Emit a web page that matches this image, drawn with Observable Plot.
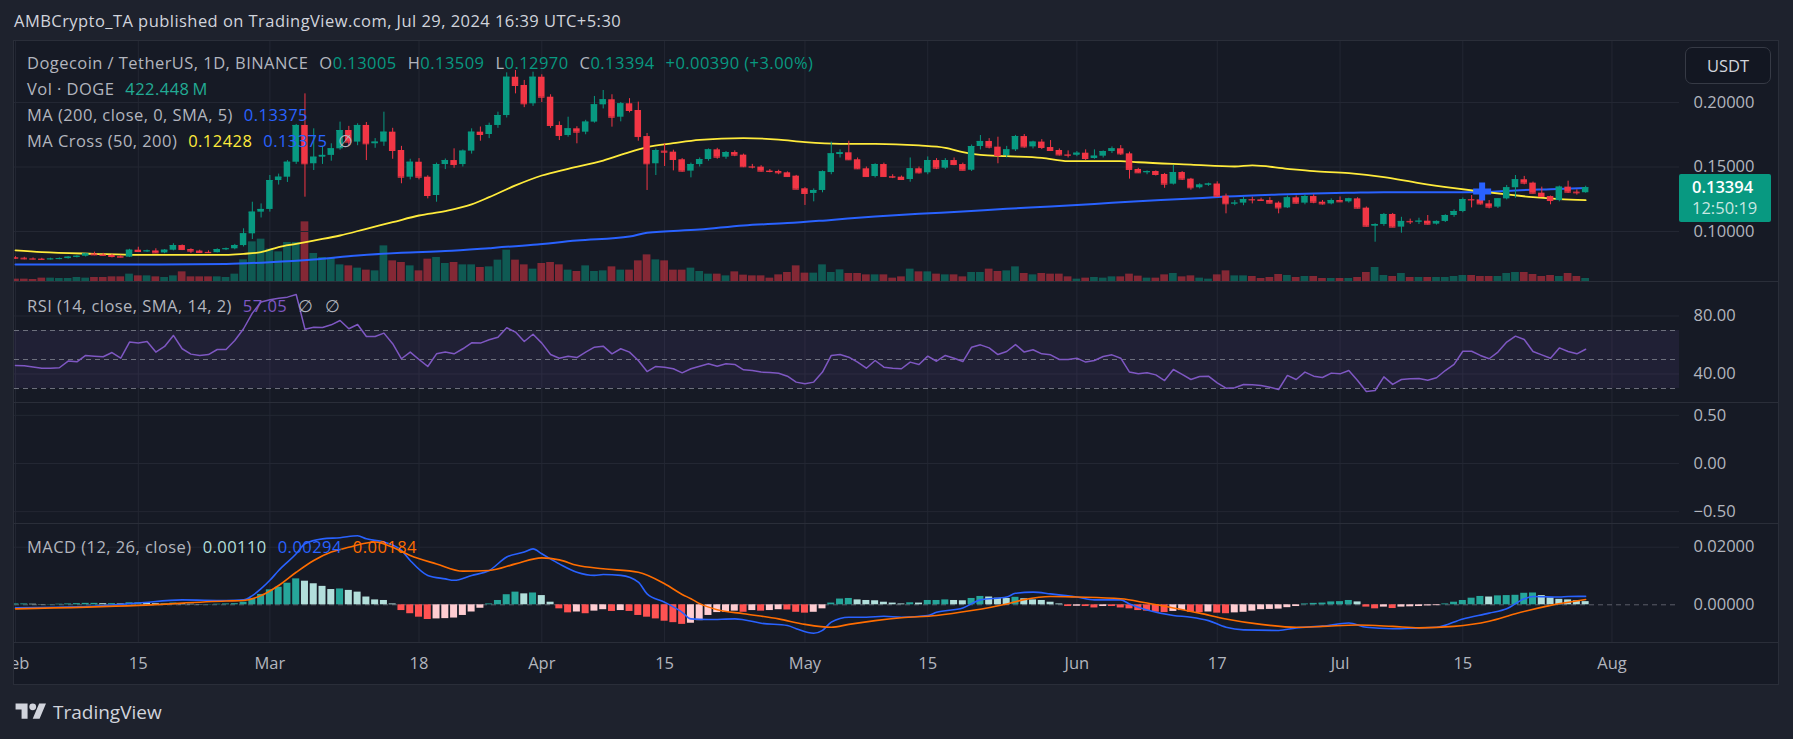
<!DOCTYPE html>
<html><head><meta charset="utf-8">
<script src="https://cdn.jsdelivr.net/npm/d3@7"></script>
<script src="https://cdn.jsdelivr.net/npm/@observablehq/plot@0.6"></script>
<style>
html,body{margin:0;padding:0;background:#1e222d;}
#root{position:relative;width:1793px;height:739px;overflow:hidden;font-family:"Open Sans",Roboto,sans-serif;color:#b2b5be;}
.abs{position:absolute;white-space:nowrap;}
#panel{position:absolute;left:13px;top:40px;width:1764px;height:643px;border:1px solid #2a2e39;background:#161a25;overflow:hidden;}
.sep{position:absolute;left:0;width:1764px;height:1px;background:#2a2e39;}
.leg{position:absolute;left:13px;font-size:16.5px;letter-spacing:0.45px;line-height:20px;white-space:nowrap;color:#b2b5be;}
.leg span{margin-right:11px;}
.leg span.k{margin-right:0;}
</style></head><body><div id="root"></div>
<script>
// ---------------- DATA ----------------
const startDay = "2024-02-01"; // first candle; one candle per day through 2024-07-29
const open = [
.0797,.0793,.0788,.0786,.0784,.0787,.0790,.0801,.0808,.0826,
.0819,.0815,.0806,.0801,.0855,.0845,.0849,.0834,.0855,.0891,
.0860,.0848,.0838,.0836,.0860,.0866,.0891,.0982,.1150,.1171,
.1395,.1421,.1537,.1822,.1525,.1576,.1590,.1641,.1783,.1693,
.1822,.1680,.1693,.1770,.1628,.1421,.1537,.1421,.1279,.1519,
.1550,.1519,.1623,.1770,.1752,.1822,.1899,.2196,.2132,.1990,
.2196,.2041,.1822,.1744,.1796,.1770,.1848,.1982,.2021,.1886,
.1990,.1938,.1736,.1525,.1623,.1615,.1556,.1468,.1519,.1558,
.1633,.1576,.1612,.1592,.1502,.1499,.1468,.1465,.1455,.1429,
.1331,.1295,.1318,.1457,.1597,.1610,.1556,.1486,.1426,.1519,
.1426,.1421,.1403,.1486,.1455,.1550,.1491,.1550,.1519,.1475,
.1659,.1698,.1654,.1589,.1633,.1736,.1656,.1693,.1651,.1628,
.1594,.1591,.1607,.1566,.1584,.1620,.1641,.1602,.1481,.1455,
.1465,.1442,.1367,.1457,.1406,.1339,.1360,.1368,.1273,.1215,
.1220,.1248,.1245,.1240,.1220,.1183,.1261,.1220,.1271,.1227,
.1214,.1240,.1230,.1253,.1181,.1041,.1054,.1132,.1034,.1078,
.1075,.1080,.1057,.1078,.1124,.1155,.1248,.1245,.1214,.1189,
.1253,.1339,.1401,.1375,.1297,.1271,.1240,.1344,.1305,.13005];
const high = [
.0805,.0800,.0795,.0792,.0793,.0795,.0806,.0812,.0832,.0840,
.0831,.0822,.0815,.0862,.0878,.0856,.0866,.0860,.0905,.0896,
.0866,.0855,.0850,.0866,.0872,.0900,.1021,.1227,.1214,.1434,
.1445,.1550,.1830,.2067,.1796,.1660,.1680,.1848,.1815,.1835,
.1845,.1720,.1925,.1800,.1660,.1560,.1565,.1432,.1530,.1562,
.1641,.1632,.1796,.1810,.1840,.1925,.2230,.2248,.2171,.2235,
.2215,.2060,.1850,.1886,.1812,.1862,.2047,.2093,.2060,.2000,
.2030,.2003,.1760,.1640,.1680,.1630,.1565,.1530,.1570,.1640,
.1645,.1620,.1625,.1600,.1520,.1510,.1480,.1475,.1462,.1435,
.1340,.1330,.1470,.1693,.1633,.1700,.1570,.1500,.1525,.1530,
.1440,.1430,.1570,.1500,.1578,.1565,.1565,.1570,.1530,.1670,
.1744,.1720,.1731,.1660,.1745,.1752,.1700,.1712,.1705,.1640,
.1625,.1620,.1633,.1633,.1625,.1656,.1666,.1615,.1490,.1470,
.1470,.1450,.1512,.1465,.1412,.1370,.1375,.1385,.1290,.1240,
.1265,.1266,.1258,.1262,.1230,.1275,.1275,.1285,.1285,.1240,
.1253,.1268,.1258,.1262,.1190,.1060,.1140,.1140,.1110,.1096,
.1103,.1124,.1082,.1130,.1168,.1260,.1279,.1262,.1240,.1255,
.1357,.1434,.1427,.1383,.1344,.1275,.1352,.1390,.1323,.13509];
const low = [
.0785,.0780,.0780,.0778,.0779,.0781,.0786,.0795,.0802,.0812,
.0810,.0795,.0795,.0798,.0840,.0838,.0830,.0828,.0850,.0852,
.0830,.0830,.0832,.0834,.0852,.0858,.0880,.0938,.1105,.1150,
.1360,.1380,.1520,.1266,.1473,.1520,.1545,.1630,.1660,.1665,
.1550,.1645,.1660,.1560,.1370,.1400,.1400,.1253,.1227,.1480,
.1490,.1500,.1600,.1700,.1720,.1800,.1880,.2067,.1960,.1970,
.2000,.1800,.1705,.1731,.1680,.1750,.1840,.1950,.1809,.1850,
.1920,.1700,.1318,.1434,.1504,.1470,.1460,.1416,.1500,.1545,
.1560,.1560,.1580,.1495,.1485,.1460,.1455,.1440,.1420,.1325,
.1202,.1230,.1300,.1440,.1570,.1550,.1480,.1420,.1415,.1420,
.1410,.1395,.1382,.1445,.1440,.1480,.1480,.1510,.1470,.1465,
.1632,.1640,.1525,.1570,.1620,.1645,.1640,.1635,.1620,.1585,
.1570,.1580,.1550,.1560,.1570,.1605,.1590,.1406,.1450,.1440,
.1430,.1335,.1360,.1395,.1320,.1330,.1350,.1265,.1137,.1200,
.1200,.1214,.1235,.1214,.1137,.1178,.1212,.1207,.1215,.1205,
.1207,.1225,.1220,.1175,.1035,.0917,.1040,.1030,.0987,.1054,
.1054,.1050,.1050,.1070,.1110,.1145,.1183,.1205,.1175,.1178,
.1245,.1258,.1362,.1290,.1264,.1207,.1230,.1295,.1282,.12970];
const close = [
.0793,.0788,.0786,.0784,.0787,.0790,.0801,.0808,.0826,.0819,
.0815,.0806,.0801,.0855,.0845,.0849,.0834,.0855,.0891,.0860,
.0848,.0838,.0836,.0860,.0866,.0891,.0982,.1150,.1171,.1395,
.1421,.1537,.1822,.1525,.1576,.1590,.1641,.1783,.1693,.1822,
.1680,.1693,.1770,.1628,.1421,.1537,.1421,.1279,.1519,.1550,
.1519,.1623,.1770,.1752,.1822,.1899,.2196,.2132,.1990,.2196,
.2041,.1822,.1744,.1796,.1770,.1848,.1982,.2021,.1886,.1990,
.1938,.1736,.1525,.1628,.1615,.1558,.1468,.1519,.1558,.1633,
.1576,.1612,.1592,.1502,.1499,.1468,.1465,.1455,.1426,.1328,
.1295,.1318,.1463,.1602,.1610,.1556,.1486,.1426,.1519,.1426,
.1421,.1403,.1486,.1455,.1550,.1491,.1550,.1519,.1475,.1659,
.1698,.1654,.1589,.1633,.1736,.1656,.1693,.1651,.1628,.1594,
.1591,.1607,.1566,.1584,.1620,.1641,.1602,.1481,.1455,.1465,
.1442,.1367,.1457,.1406,.1339,.1360,.1368,.1273,.1215,.1220,
.1248,.1245,.1240,.1220,.1183,.1261,.1220,.1271,.1227,.1214,
.1240,.1230,.1253,.1181,.1041,.1054,.1132,.1034,.1078,.1075,
.1080,.1057,.1078,.1124,.1155,.1248,.1245,.1214,.1189,.1253,
.1339,.1401,.1375,.1297,.1271,.1240,.1344,.1305,.1300,.13394];
// volume, millions of DOGE
const volume = [
330,330,280,470,470,420,420,560,470,560,
560,650,650,1030,790,790,650,560,790,1350,
650,650,650,650,560,1030,3030,5550,5930,4530,
4150,5460,5460,8350,3920,3360,3270,2330,2190,1870,
1590,1490,4990,2890,2660,2190,1490,3130,3360,2520,
2660,2330,2330,1960,2050,2990,4390,2990,2330,1730,
2520,2660,2330,1590,1400,2190,1400,1490,2050,1590,
1590,2890,3730,3030,2890,1590,1590,1870,1400,1030,
1030,790,1350,890,790,790,470,930,1260,2190,
1170,1170,2330,1260,1630,1120,1120,930,930,930,
470,650,1730,1350,1350,1030,930,930,650,1260,
1260,1730,1400,1490,2050,1120,930,1120,1030,1030,
650,330,470,560,470,650,650,1030,750,470,
470,930,1120,650,790,470,330,930,1490,790,
790,700,420,560,980,840,560,700,700,420,
420,420,420,560,1260,1960,840,700,1120,560,
560,560,560,560,700,840,840,700,700,700,
1120,1260,1260,980,700,840,700,1120,700,422.448];
const rsi = [
45.9,45.7,44.8,43.9,43.9,44.3,48.9,48.4,52.8,52.3,
51.9,54.8,50.9,62.0,61.3,62.4,55.1,59.0,66.6,57.4,
53.7,52.8,53.4,56.9,56.9,63.1,71.2,82.0,89.6,91.2,
92.3,93.0,94.8,70.9,72.3,72.1,73.9,76.9,71.2,74.1,
65.9,65.9,68.2,60.9,50.5,55.1,50.0,45.2,53.9,55.1,
53.9,57.4,61.5,61.3,63.6,65.4,71.9,68.9,62.4,67.4,
61.3,53.4,50.9,52.3,51.3,55.1,58.5,59.2,53.9,57.4,
55.1,49.3,41.7,45.2,44.7,43.6,40.8,43.6,45.4,47.0,
45.4,47.0,46.6,42.9,42.4,41.3,41.0,40.5,38.5,34.4,
33.2,34.4,41.3,52.8,53.4,51.6,48.2,44.0,49.3,44.7,
44.0,43.6,48.2,46.6,52.3,48.8,52.8,50.9,48.6,58.5,
60.1,58.0,53.4,55.5,60.3,55.1,56.7,53.9,53.2,50.0,
50.0,50.9,48.2,49.3,52.1,53.2,50.9,41.3,40.1,40.8,
39.4,35.5,43.1,39.7,36.2,38.3,38.5,33.9,30.2,30.5,
32.8,32.5,32.1,30.9,29.3,39.0,36.2,41.3,38.5,37.6,
40.6,40.1,42.4,35.5,27.9,28.6,38.0,32.8,36.2,36.7,
36.9,35.7,37.4,42.4,46.6,55.7,55.7,52.8,50.5,55.1,
62.0,66.1,63.8,55.5,53.2,50.9,58.0,55.5,53.9,57.05];
const macdHist = [
.0003,.0003,.0002,.0001,.0001,.0002,.0003,.0004,.0005,.0005,
.0004,.0004,.0003,.0007,.0007,.0006,.0004,.0004,.0006,.0004,
.0002,.0001,.0001,.0002,.0003,.0004,.0009,.0021,.0036,.0052,
.0061,.0075,.0090,.0082,.0073,.0064,.0053,.0055,.0050,.0044,
.0027,.0017,.0015,.0003,-.0020,-.0031,-.0043,-.0051,-.0049,-.0048,
-.0046,-.0037,-.0025,-.0012,.0003,.0015,.0035,.0044,.0038,.0041,
.0032,.0009,-.0014,-.0028,-.0025,-.0031,-.0022,-.0017,-.0023,-.0020,
-.0023,-.0037,-.0043,-.0049,-.0057,-.0062,-.0068,-.0064,-.0055,-.0037,
-.0027,-.0026,-.0022,-.0026,-.0020,-.0022,-.0020,-.0017,-.0018,-.0026,
-.0029,-.0026,-.0014,.0006,.0020,.0022,.0017,.0015,.0014,.0009,
.0006,.0003,.0007,.0006,.0015,.0015,.0017,.0015,.0014,.0022,
.0029,.0027,.0023,.0022,.0026,.0021,.0017,.0015,.0009,.0003,
-.0006,-.0005,-.0006,-.0011,-.0006,-.0006,-.0011,-.0014,-.0020,-.0022,
-.0026,-.0027,-.0023,-.0020,-.0026,-.0027,-.0025,-.0029,-.0031,-.0028,
-.0026,-.0022,-.0017,-.0016,-.0015,-.0010,-.0006,.0003,.0005,.0006,
.0010,.0011,.0015,.0010,-.0008,-.0014,-.0008,-.0013,-.0008,-.0007,
-.0006,-.0004,-.0003,.0003,.0009,.0015,.0023,.0029,.0027,.0031,
.0032,.0033,.0040,.0041,.0032,.0024,.0019,.0017,.0014,.0011];
// sampled lines: day index (0 = Feb 1) and value
const macdDay = [0,8,14,19,24,26,27,28,29,30,32,33,35,37,39,40,42,44,45,47,49,50,52,54,56,58,59,60,62,64,66,67,69,71,72,74,76,77,79,82,83,85,88,89,91,92,93,95,97,99,101,104,105,108,110,113,114,116,118,121,123,126,127,129,132,134,136,138,140,144,146,149,152,154,157,160,162,165,168,170,172,173,176,177,179];
const macdVal = [-.0010,-.0006,.0006,.0017,.0015,.0017,.0032,.0056,.0085,.0119,.0177,.0212,.0229,.0233,.0240,.0229,.0218,.0189,.0154,.0102,.0090,.0085,.0102,.0119,.0166,.0183,.0194,.0177,.0142,.0113,.0102,.0105,.0102,.0079,.0038,.0009,-.0026,-.0049,-.0051,-.0049,-.0052,-.0064,-.0072,-.0083,-.0099,-.0089,-.0060,-.0043,-.0043,-.0040,-.0043,-.0037,-.0026,-.0011,.0017,.0027,.0040,.0044,.0038,.0027,.0017,.0017,.0003,-.0018,-.0037,-.0043,-.0055,-.0078,-.0087,-.0089,-.0080,-.0074,-.0063,-.0078,-.0083,-.0080,-.0078,-.0049,-.0029,-.0014,.0021,.0029,.0027,.0029,.00294];
const signalDay = [0,14,24,26,28,30,32,34,36,38,41,43,45,48,51,54,57,60,62,64,67,71,74,76,77,78,80,83,87,90,93,95,98,101,105,109,113,115,118,121,126,129,132,135,138,142,146,149,153,157,160,164,168,171,175,179];
const signalVal = [-.0014,-.0002,.0013,.0015,.0032,.0067,.0113,.0154,.0183,.0200,.0218,.0200,.0171,.0142,.0117,.0119,.0142,.0163,.0156,.0137,.0125,.0113,.0073,.0036,.0021,.0004,-.0017,-.0031,-.0049,-.0068,-.0078,-.0068,-.0055,-.0045,-.0037,-.0020,.0003,.0018,.0029,.0027,.0021,.0006,-.0011,-.0029,-.0049,-.0068,-.0078,-.0075,-.0070,-.0075,-.0080,-.0075,-.0057,-.0031,-.0002,.00184];
const ma50Day = [0,3,9,14,19,24,26,28,30,32,34,37,40,43,46,49,52,54,57,60,63,67,70,72,75,78,83,87,90,94,98,103,106,108,110,113,117,120,123,126,128,134,139,141,145,148,152,156,160,164,167,170,173,176,179];
const ma50Val = [.0853,.0840,.0827,.0819,.0819,.0819,.0827,.0840,.0879,.0904,.0930,.0969,.1021,.1072,.1124,.1158,.1210,.1266,.1357,.1434,.1486,.1550,.1615,.1654,.1685,.1711,.1724,.1713,.1693,.1680,.1680,.1667,.1649,.1615,.1594,.1584,.1571,.1545,.1545,.1545,.1537,.1519,.1504,.1512,.1486,.1468,.1452,.1421,.1375,.1336,.1310,.1287,.1266,.1251,.12428];
const ma200Day = [0,14,24,29,34,39,44,49,54,59,64,70,72,78,83,88,93,98,103,108,113,118,123,128,133,138,144,148,152,156,164,168,171,175,179];
const ma200Val = [.0744,.0744,.0749,.0762,.0783,.0814,.0835,.0848,.0871,.0897,.0930,.0961,.0990,.1015,.1047,.1065,.1090,.1116,.1137,.1155,.1176,.1194,.1214,.1235,.1251,.1271,.1287,.1295,.1300,.1305,.1305,.1307,.1318,.1328,.13375];
const crossDay = [167.2], crossVal = [0.1310]; // MA-cross marker
const tickDates = ["2024-02-01","2024-02-15","2024-03-01","2024-03-18","2024-04-01","2024-04-15","2024-05-01","2024-05-15","2024-06-01","2024-06-17","2024-07-01","2024-07-15","2024-08-01"];
const priceTicks = [0.10, 0.15, 0.20];
const rsiTicks = [80, 40], rsiBands = [70, 50, 30];
const emptyTicks = [0.5, 0, -0.5];
const macdTicks = [0.02, 0];

// ---------------- BUILD ----------------
const DAY = 864e5;
const t0 = Date.parse(startDay + "T00:00:00Z");
const at = (d) => new Date(t0 + d * DAY);
const UP = "#089981", DN = "#f23645", GRID = "#232733", AXIS = "#b2b5be";
const FONT = "'Open Sans', Roboto, sans-serif";
const candles = open.map((o, i) => ({date: at(i), i, o, h: high[i], l: low[i], c: close[i], v: volume[i], up: close[i] >= o}));
const rsiData = rsi.map((v, i) => ({date: at(i), v}));
const histData = macdHist.map((v, i) => ({date: at(i), v, col: v >= 0 ? (i > 0 && v < macdHist[i-1] ? "#b2dfdb" : "#26a69a") : (i > 0 && v > macdHist[i-1] ? "#ffcdd2" : "#ff5252")}));
const pts = (ds, vs) => ds.map((d, k) => ({date: at(d), v: vs[k]}));
const xDomain = [at(-0.114), at(189.7)];
const ticks = tickDates.map(s => new Date(s + "T00:00:00Z"));
const half = (f) => (d) => new Date(+d.date + f * DAY);

const base = (o) => Plot.plot(Object.assign({
  width: 1764, marginLeft: 0, marginRight: 99, marginTop: 0, marginBottom: 0,
  style: {background: "transparent", color: AXIS, fontFamily: FONT, fontSize: "16.5px", position: "absolute", left: "0px"},
}, o));
const xOpt = {type: "utc", domain: xDomain, axis: null};
const vgrid = Plot.ruleX(ticks, {stroke: GRID, strokeWidth: 1});
const yAxis = (t, f) => Plot.axisY({anchor: "right", ticks: t, tickSize: 0, tickPadding: 14, tickFormat: d3.format(f), label: null});

const root = document.getElementById("root");
const el = (tag, cls, css, html) => { const e = document.createElement(tag); if (cls) e.className = cls; if (css) e.style.cssText = css; if (html != null) e.innerHTML = html; return e; };

root.appendChild(el("div", "abs", "left:14px;top:10px;font-size:16.5px;letter-spacing:0.45px;line-height:22px;color:#d1d4dc;", "AMBCrypto_TA published on TradingView.com, Jul 29, 2024 16:39 UTC+5:30"));
const panel = el("div", null, null); panel.id = "panel"; root.appendChild(panel);

// ---- price pane: grid + volume (bottom layer)
const volPlot = base({
  height: 240, x: xOpt, y: {domain: [0, 33600], axis: null},
  marks: [
    vgrid,
    Plot.rectY(candles, {x1: half(-0.44), x2: half(0.44), y: "v", fill: d => d.up ? UP : DN, fillOpacity: 0.5})
  ]
});
volPlot.style.top = "0px"; panel.appendChild(volPlot);
const pricePlot = base({
  height: 240, x: xOpt, y: {domain: [0.06124, 0.24729]},
  marks: [
    Plot.ruleY(priceTicks, {stroke: GRID}),
    yAxis(priceTicks, ".5f"),
    Plot.line(pts(ma200Day, ma200Val), {x: "date", y: "v", stroke: "#2962ff", strokeWidth: 2, curve: "monotone-x"}),
    Plot.line(pts(ma50Day, ma50Val), {x: "date", y: "v", stroke: "#ffeb3b", strokeWidth: 1.8, curve: "monotone-x"}),
    Plot.ruleX(candles, {x: "date", y1: "l", y2: "h", stroke: d => d.up ? UP : DN, strokeWidth: 1}),
    Plot.rect(candles, {x1: half(-0.37), x2: half(0.37), y1: "o", y2: "c", fill: d => d.up ? UP : DN}),
    Plot.ruleY(candles, {y: "c", x1: half(-0.37), x2: half(0.37), stroke: d => d.up ? UP : DN}),
    Plot.dot(pts(crossDay, crossVal), {x: "date", y: "v", fill: "#2962ff", stroke: null,
      symbol: {draw(ctx) { const a = 9, b = 3; ctx.moveTo(-b,-a); ctx.lineTo(b,-a); ctx.lineTo(b,-b); ctx.lineTo(a,-b); ctx.lineTo(a,b); ctx.lineTo(b,b); ctx.lineTo(b,a); ctx.lineTo(-b,a); ctx.lineTo(-b,b); ctx.lineTo(-a,b); ctx.lineTo(-a,-b); ctx.lineTo(-b,-b); ctx.closePath(); }}})
  ]
});
pricePlot.style.top = "0px"; panel.appendChild(pricePlot);

// last price label
const lastY = pricePlot.scale("y").apply(close[close.length - 1]);
panel.appendChild(el("div", null, `position:absolute;left:1665px;top:${lastY - 13}px;width:92px;height:48px;background:${UP};border-radius:2px;font-size:16.5px;line-height:21px;`,
  `<div style="padding-left:13px;padding-top:2px;color:#fff;font-weight:600">${d3.format(".5f")(close[close.length-1])}</div><div style="padding-left:13px;color:rgba(255,255,255,0.78)">12:50:19</div>`));
// USDT button
panel.appendChild(el("div", null, "position:absolute;left:1671px;top:6px;width:84px;height:35px;border:1px solid #363a45;border-radius:7px;background:#131722;color:#d1d4dc;font-size:16.5px;line-height:35px;text-align:center;", "USDT"));

// legends
const G = (t) => `<span class="k">${t}</span>`;
const V = (t, c, extra) => `<span style="color:${c};${extra||""}">${t}</span>`;
panel.appendChild(el("div", "leg", "top:12px;",
  `<span>Dogecoin / TetherUS, 1D, BINANCE</span>${G("O")}${V("0.13005", UP)}${G("H")}${V("0.13509", UP)}${G("L")}${V("0.12970", UP)}${G("C")}${V("0.13394", UP)}${V("+0.00390 (+3.00%)", UP)}`));
panel.appendChild(el("div", "leg", "top:38px;", `<span>Vol · DOGE</span>${V("422.448\u2009M", "#22ab94")}`));
panel.appendChild(el("div", "leg", "top:64px;", `<span>MA (200, close, 0, SMA, 5)</span>${V("0.13375", "#2962ff")}`));
panel.appendChild(el("div", "leg", "top:90px;", `<span>MA Cross (50, 200)</span>${V("0.12428", "#ffeb3b")}${V("0.13375", "#2962ff")}<span>∅</span>`));

panel.appendChild(el("div", "sep", "top:240px;"));

// ---- RSI pane
const rsiPlot = base({
  height: 120, x: xOpt, y: {domain: [20.34, 103.1]},
  marks: [
    vgrid,
    Plot.ruleY(rsiTicks, {stroke: GRID}),
    Plot.rect([0], {x1: () => xDomain[0], x2: () => xDomain[1], y1: () => rsiBands[2], y2: () => rsiBands[0], fill: "#7e57c2", fillOpacity: 0.1}),
    Plot.ruleY(rsiBands, {stroke: "#787b86", strokeDasharray: "5,4", strokeOpacity: 0.9}),
    yAxis(rsiTicks, ".2f"),
    Plot.line(rsiData, {x: "date", y: "v", stroke: "#7e57c2", strokeWidth: 1.5})
  ]
});
rsiPlot.style.top = "241px"; panel.appendChild(rsiPlot);
panel.appendChild(el("div", "leg", "top:255px;", `<span>RSI (14, close, SMA, 14, 2)</span>${V("57.05", "#7e57c2")}<span>∅</span><span>∅</span>`));
panel.appendChild(el("div", "sep", "top:361px;"));

// ---- empty pane
const emptyPlot = base({
  height: 120, x: xOpt, y: {domain: [-0.623, 0.623]},
  marks: [
    vgrid,
    Plot.ruleY(emptyTicks, {stroke: GRID}),
    yAxis(emptyTicks, ".2f")
  ]
});
emptyPlot.style.top = "362px"; panel.appendChild(emptyPlot);
panel.appendChild(el("div", "sep", "top:482px;"));

// ---- MACD pane
const macdPlot = base({
  height: 118, x: xOpt, y: {domain: [-0.01309, 0.02788]},
  marks: [
    vgrid,
    Plot.ruleY([macdTicks[0]], {stroke: GRID}),
    Plot.ruleY([macdTicks[1]], {stroke: "#787b86", strokeDasharray: "5,4", strokeOpacity: 0.7}),
    yAxis(macdTicks, ".5f"),
    Plot.rectY(histData, {x1: half(-0.4), x2: half(0.4), y: "v", fill: "col"}),
    Plot.line(pts(macdDay, macdVal), {x: "date", y: "v", stroke: "#2962ff", strokeWidth: 1.6, curve: "monotone-x"}),
    Plot.line(pts(signalDay, signalVal), {x: "date", y: "v", stroke: "#ff6d00", strokeWidth: 1.6, curve: "monotone-x"})
  ]
});
macdPlot.style.top = "483px"; panel.appendChild(macdPlot);
panel.appendChild(el("div", "leg", "top:496px;", `<span>MACD (12, 26, close)</span>${V("0.00110", "#b2dfdb")}${V("0.00294", "#2962ff")}${V("0.00184", "#ff6d00")}`));
panel.appendChild(el("div", "sep", "top:601px;"));

// ---- time axis
const timePlot = base({
  height: 42, marginBottom: 28, x: {type: "utc", domain: xDomain},
  marks: [
    Plot.axisX({ticks: ticks, anchor: "bottom", tickSize: 0, tickPadding: 0, label: null,
      tickFormat: d => d.getUTCDate() === 1 ? d3.utcFormat("%b")(d) : String(d.getUTCDate())})
  ]
});
timePlot.style.top = "602px"; panel.appendChild(timePlot);

// footer logo
root.appendChild(el("div", "abs", "left:14px;top:699px;display:flex;align-items:center;gap:5px;color:#d1d4dc;font-size:19px;font-weight:500;",
  `<svg width="34" height="24" viewBox="0 0 36 28"><path fill="#d1d4dc" d="M14 22H7V11H0V4h14v18zM28 22h-8l7.5-18h8L28 22z"/><circle fill="#d1d4dc" cx="20" cy="8" r="4"/></svg><span>TradingView</span>`));
</script></body></html>
